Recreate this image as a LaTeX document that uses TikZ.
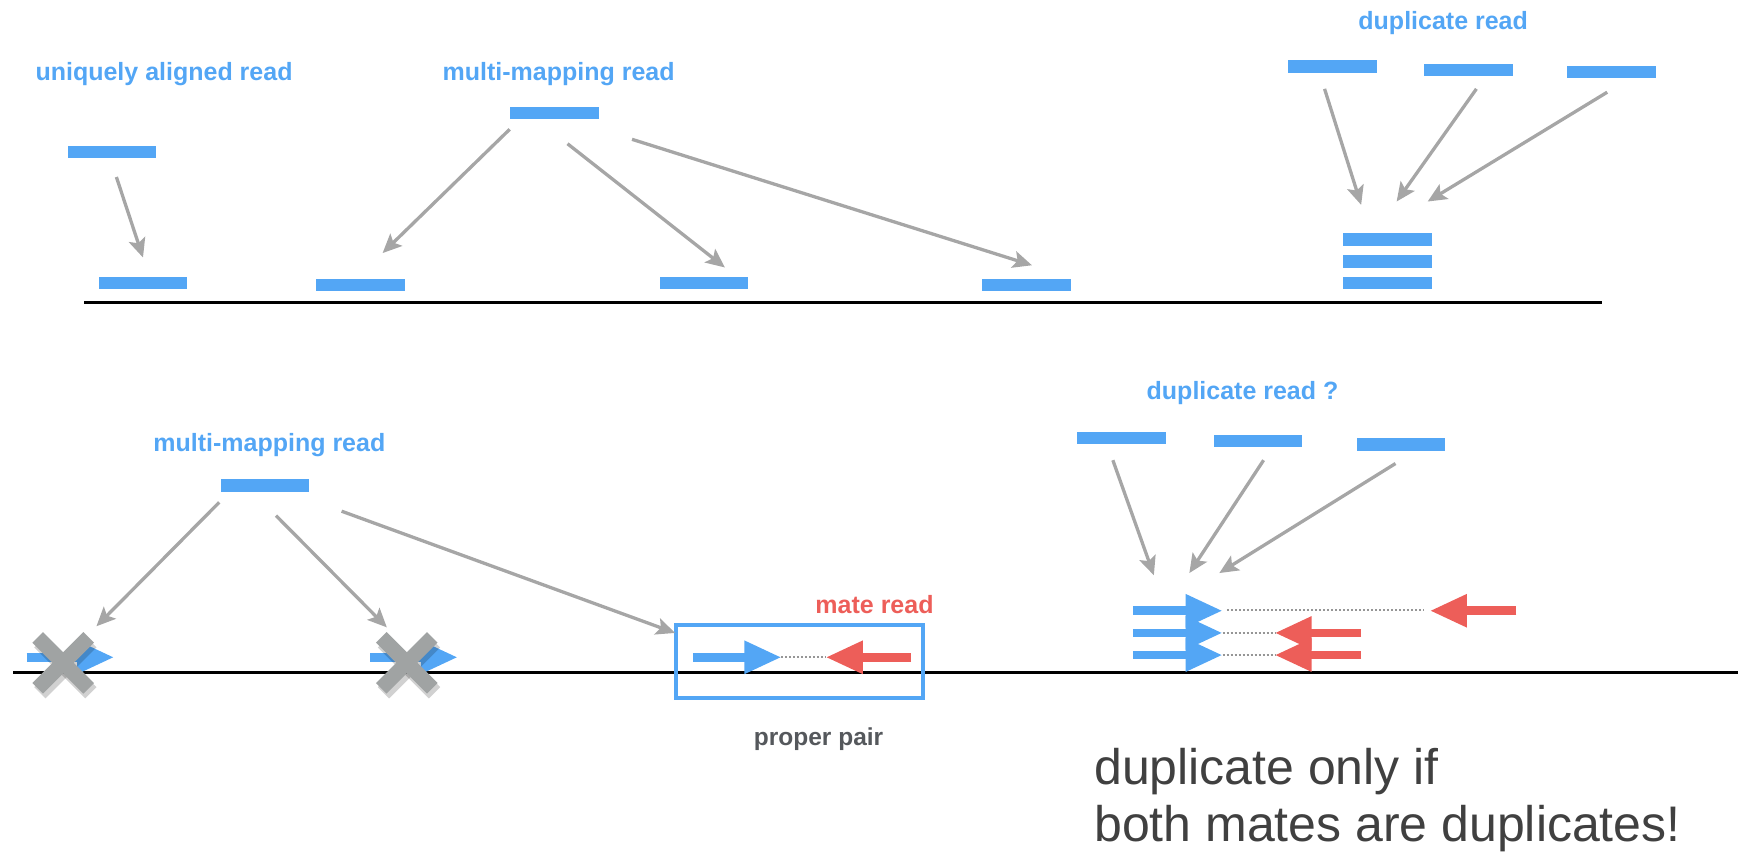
\documentclass[tikz,border=0pt]{standalone}
\usepackage{fontspec}
\setmainfont{Liberation Sans}
\usetikzlibrary{arrows.meta,calc}
\definecolor{rblue}{RGB}{83,166,245}
\definecolor{rred}{RGB}{237,94,89}
\definecolor{agray}{RGB}{166,166,166}
\definecolor{xgray}{RGB}{160,163,163}
\definecolor{dgray}{RGB}{64,64,64}
\definecolor{pgray}{RGB}{85,88,92}
\definecolor{dotgray}{RGB}{150,150,150}
\tikzset{
  read/.style={fill=rblue, minimum width=88.7pt, minimum height=12.2pt, inner sep=0pt, draw=none},
  lbl/.style={text=rblue, font=\fontsize{25}{29}\selectfont\bfseries, inner sep=0pt},
  garrow/.style={draw=agray, line width=3.3pt, -{Stealth[length=19pt,width=17pt,inset=4pt]}},
  barrow/.style={draw=rblue, line width=8.5pt, -{Triangle[length=37pt,width=31pt]}},
  rarrow/.style={draw=rred, line width=8.5pt, -{Triangle[length=37pt,width=31pt]}},
  dotline/.style={draw=dotgray, line width=2pt, dash pattern=on 2pt off 2pt},
  refline/.style={draw=black, line width=3.3pt},
  xmark/.style={draw=xgray, line width=15pt, line cap=butt},
  xshadow/.style={draw=black, opacity=0.18, line width=16pt, line cap=butt},
}
\begin{document}
\begin{tikzpicture}[x=1.1084pt,y=-1.1084pt]
\useasboundingbox (0,0) rectangle (1568,770);

% ---------------- top section ----------------
\node[lbl] (lu) at (148,67) {uniquely aligned read};
\node[lbl] (lm) at (504,67) {multi-mapping read};
\node[lbl] (ld) at (1302,21) {duplicate read};

\node[read] (u0) at (101,137) {};
\node[read] (u1) at (129,255) {};
\draw[garrow] ($(u0.south)+(4,17)$) -- ($(u1.north)+(0,-17)$);

\node[read] (m0) at (500,102) {};
\node[read] (a1) at (325,257) {};
\node[read] (a2) at (635,255) {};
\node[read] (a3) at (926,257) {};
\draw[garrow] ($(m0.south west)+(0,9)$) -- ($(a1.north east)+(-20,-23)$);
\draw[garrow] ($(m0.south)+(12,22)$) -- ($(a2.north)+(19,-8)$);
\draw[garrow] ($(m0.south east)+(30,18)$) -- ($(a3.north)+(5,-12)$);

\node[read] (d1) at (1202,60) {};
\node[read] (d2) at (1325,63) {};
\node[read] (d3) at (1454,65) {};
\node[read] (s1) at (1252,216) {};
\node[read] (s2) at (1252,236) {};
\node[read] (s3) at (1252,255) {};
\draw[garrow] ($(d1.south)+(-7,14.5)$) -- ($(s1.north)+(-24,-25.5)$);
\draw[garrow] ($(d2.south)+(7,11.5)$) -- ($(s1.north)+(8,-28.5)$);
\draw[garrow] ($(d3.south)+(-4,12.5)$) -- ($(s1.north)+(36,-28.5)$);

\coordinate (t0) at (76,273);
\coordinate (t1) at (1445,273);
\draw[refline] (t0) -- (t1);

% ---------------- bottom section ----------------
\node[lbl] (lb) at (243,402) {multi-mapping read};
\node[lbl] (ldq) at (1121,355) {duplicate read ?};
\node[lbl, text=rred] (lmate) at (789,545) {mate read};
\node[text=pgray, font=\fontsize{24.5}{28}\selectfont\bfseries, inner sep=0pt, anchor=base] (lpp) at (738.5,673) {proper pair};

\coordinate (b0l) at (12,607);
\coordinate (b0r) at (1568,607);
\draw[refline] (b0l) -- (b0r);

\node[read] (b0) at (239,438) {};

% crossed-out alignments
\coordinate (x1s) at (24,593);
\coordinate (x1t) at (103,593);
\coordinate (x1) at (57,598);
\coordinate (x2s) at (334,593);
\coordinate (x2t) at (413,593);
\coordinate (x2) at (367,598);
\draw[barrow] (x1s) -- (x1t);
\draw[barrow] (x2s) -- (x2t);
\foreach \c in {x1,x2}{
  \draw[xshadow] ($(\c)+(-21,-19)$) -- ($(\c)+(25,27)$);
  \draw[xshadow] ($(\c)+(25,-19)$) -- ($(\c)+(-21,27)$);
  \draw[xmark] ($(\c)+(-23,-23)$) -- ($(\c)+(23,23)$);
  \draw[xmark] ($(\c)+(23,-23)$) -- ($(\c)+(-23,23)$);
}

% proper pair
\node[draw=rblue, line width=4.5pt, minimum width=247pt, minimum height=73pt, inner sep=0pt] (pp) at (721.5,597) {};
\coordinate (ppbs) at (625,593);
\coordinate (ppbt) at (705,593);
\coordinate (pprs) at (822,593);
\coordinate (pprt) at (745,593);
\draw[barrow] (ppbs) -- (ppbt);
\draw[dotline] (ppbt) -- (pprt);
\draw[rarrow] (pprs) -- (pprt);

\draw[garrow] ($(b0.south west)+(-1,9.5)$) -- ($(x1)+(30,-33)$);
\draw[garrow] ($(b0.south)+(10,21.5)$) -- ($(x2)+(-18,-32)$);
\draw[garrow] ($(b0.south east)+(29,17.5)$) -- ($(pp.north west)+(1,9)$);

% duplicate read ?
\node[read] (e1) at (1012,395) {};
\node[read] (e2) at (1135,398) {};
\node[read] (e3) at (1264,401) {};

\coordinate (sb1) at (1022,551);
\coordinate (sb1t) at (1103,551);
\coordinate (sb2) at (1022,571);
\coordinate (sb2t) at (1103,571);
\coordinate (sb3) at (1022,591);
\coordinate (sb3t) at (1103,591);
\coordinate (sr1) at (1368,551);
\coordinate (sr1t) at (1290,551);
\coordinate (sr2) at (1228,571);
\coordinate (sr2t) at (1150,571);
\coordinate (sr3) at (1228,591);
\coordinate (sr3t) at (1150,591);

\draw[dotline] ($(sb1t)+(4,-1)$) -- ($(sr1t)+(-6,-1)$);
\draw[dotline] (sb2t) -- (sr2t);
\draw[dotline] (sb3t) -- (sr3t);
\draw[barrow] (sb1) -- (sb1t);
\draw[barrow] (sb2) -- (sb2t);
\draw[barrow] (sb3) -- (sb3t);
\draw[rarrow] (sr1) -- (sr1t);
\draw[rarrow] (sr2) -- (sr2t);
\draw[rarrow] (sr3) -- (sr3t);

\draw[garrow] ($(e1.south)+(-8,14.5)$) -- ($(sb1)+(19,-32)$);
\draw[garrow] ($(e2.south)+(5,11.5)$) -- ($(sb1)+(51,-34)$);
\draw[garrow] ($(e3.south)+(-5,11.5)$) -- ($(sb1)+(78,-34)$);

\node[text=dgray, font=\fontsize{50}{57}\selectfont, align=left, anchor=north west, inner sep=0pt] (note) at (987,675)
  {duplicate only if\\both mates are duplicates!};
\end{tikzpicture}
\end{document}
